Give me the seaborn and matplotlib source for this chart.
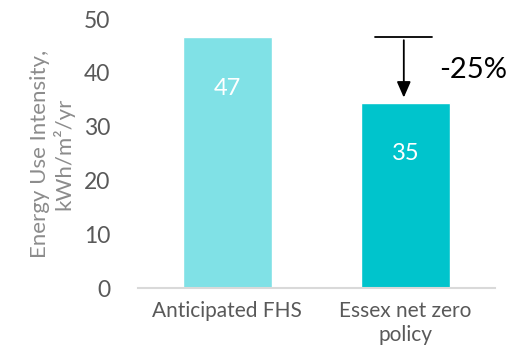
import matplotlib
matplotlib.use("Agg")
import matplotlib.pyplot as plt
import seaborn as sns
import pandas as pd

categories = ["Anticipated FHS", "Essex net zero\npolicy"]
values = [46.6, 34.5]
labels = ["47", "35"]
colors = ["#80E1E6", "#00C4CC"]
yticks = [0, 10, 20, 30, 40, 50]
change_label = "-25%"

sns.set_theme(style="white")
plt.rcParams['font.family'] = ['Lato', 'DejaVu Sans']

df = pd.DataFrame({"cat": categories, "val": values})
fig = plt.figure(figsize=(5.17, 3.61), dpi=100)
ax = fig.add_axes([0.267, 0.202, 0.690, 0.745])
sns.barplot(data=df, x="cat", y="val", hue="cat", palette=colors, width=0.5,
            legend=False, ax=ax, saturation=1)
ax.set_xlim(-0.5, 1.5)
ax.set_ylim(0, 50)
ax.set_yticks(yticks)
ax.set_xlabel("")
ax.set_ylabel("Energy Use Intensity,\nkWh/m²/yr", color="#8c8c8c", fontsize=16,
              labelpad=7, linespacing=1.1)
ax.tick_params(axis="both", length=0, colors="#595959")
ax.tick_params(axis="y", labelsize=16.5, pad=20)
ax.tick_params(axis="x", labelsize=15, pad=9)
for lbl in ax.get_xticklabels():
    lbl.set_linespacing(1.3)
for s in ["top", "right", "left"]:
    ax.spines[s].set_visible(False)
ax.spines["bottom"].set_color("#d9d9d9")
ax.spines["bottom"].set_linewidth(1.5)

for i, (v, lab) in enumerate(zip(values, labels)):
    ax.text(i, v - 9.5, lab, ha="center", va="center", color="white", fontsize=17)

# change annotation
ax.plot([0.83, 1.15], [values[0], values[0]], color="black", lw=1.3, clip_on=False)
ax.annotate("", xy=(0.99, values[1] + 0.4), xytext=(0.99, values[0]),
            arrowprops=dict(arrowstyle="-|>,head_width=0.35,head_length=0.8", color="black", lw=1.3))
ax.text(1.19, 40.5, change_label, ha="left", va="center", color="black", fontsize=21)

fig.savefig("out.png", dpi=100)
